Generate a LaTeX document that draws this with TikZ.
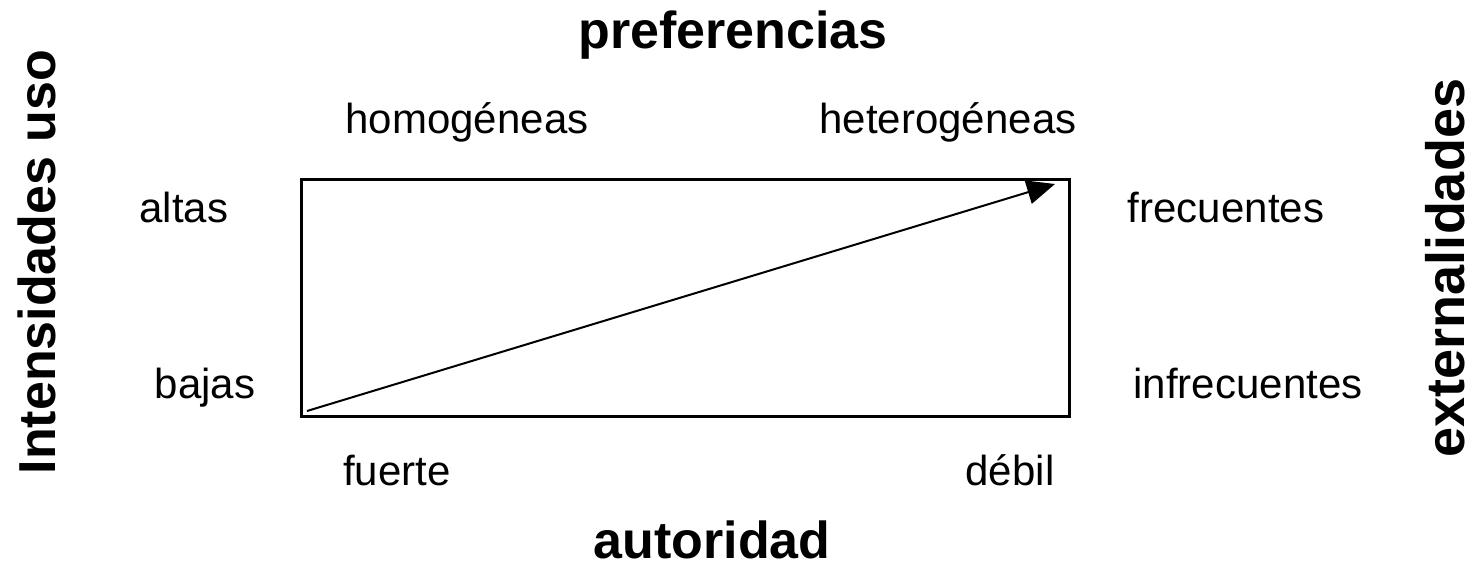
\documentclass[tikz,border=0pt]{standalone}
\usepackage{fontspec}
\setmainfont{Liberation Sans}
\usetikzlibrary{arrows.meta}
\begin{document}
\begin{tikzpicture}[x=1pt,y=-1pt,
  lbl/.style={font=\fontsize{42}{48}\selectfont, inner sep=0pt, anchor=base},
  ttl/.style={font=\fontsize{52}{60}\selectfont\bfseries, inner sep=0pt, anchor=base}]
\useasboundingbox (0,0) rectangle (1476,568);
\node[draw, line width=3pt, minimum width=768pt, minimum height=237pt, inner sep=0pt, anchor=north west] (box) at (300,178) {};
\coordinate (s) at (307,411);
\coordinate (t) at (1055,184);
\draw[line width=2pt, -{Triangle[length=28pt,width=24pt]}] (s) -- (t);
\node[ttl] (pref) at (733,48) {preferencias};
\node[ttl] (aut) at (712,558) {autoridad};
\node[ttl, rotate=90] (int) at (55,262) {Intensidades uso};
\node[ttl, rotate=90, font=\fontsize{54}{62}\selectfont\bfseries] (ext) at (1464,268) {externalidades};
\node[lbl] (hom) at (467,133) {homogéneas};
\node[lbl] (het) at (948,133) {heterogéneas};
\node[lbl] (alt) at (184,222) {altas};
\node[lbl] (baj) at (205,398) {bajas};
\node[lbl] (fre) at (1226,222) {frecuentes};
\node[lbl] (inf) at (1248,398) {infrecuentes};
\node[lbl] (fue) at (397,485) {fuerte};
\node[lbl] (deb) at (1010,485) {débil};
\end{tikzpicture}
\end{document}
